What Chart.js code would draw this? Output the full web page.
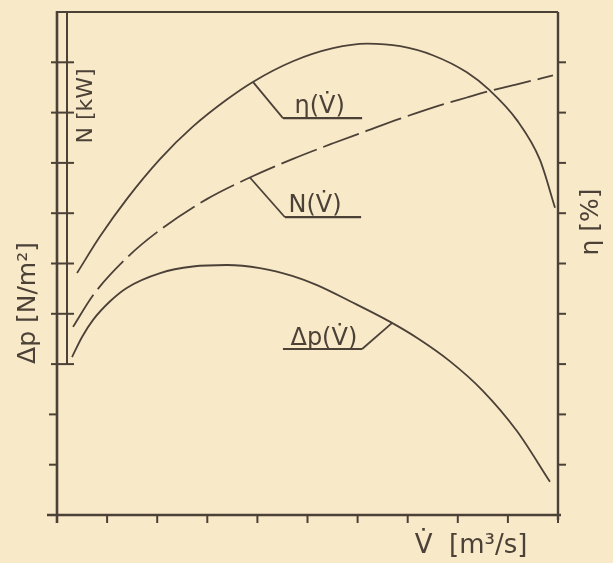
<!DOCTYPE html>
<html>
<head>
<meta charset="utf-8">
<script src="https://cdn.jsdelivr.net/npm/chart.js@4/dist/chart.umd.min.js"></script>
<style>
  html, body { margin: 0; padding: 0; background: #f8e9c9; }
  canvas { display: block; }
</style>
</head>
<body>
<canvas id="c" width="613" height="563"></canvas>
<script>
// ---- data (axis units: 10 divisions on each axis) ----
const xTicks = [1, 2, 3, 4, 5, 6, 7, 8, 9, 10];
const yTicks = [1, 2, 3, 4, 5, 6, 7, 8, 9];

const etaX = [0.40, 0.86, 1.40, 2.06, 2.71, 3.39, 3.91, 4.71, 5.51, 6.19, 6.85, 7.50, 8.18, 8.64, 9.18, 9.64, 9.94];
const etaY = [4.81, 5.54, 6.29, 7.08, 7.72, 8.26, 8.61, 9.02, 9.28, 9.37, 9.32, 9.14, 8.80, 8.44, 7.85, 7.06, 6.11];

const powX = [0.32, 0.72, 1.40, 2.06, 2.99, 3.85, 4.71, 5.51, 6.19, 6.85, 7.50, 8.18, 8.64, 9.18, 9.90];
const powY = [3.74, 4.37, 5.12, 5.67, 6.28, 6.71, 7.08, 7.39, 7.64, 7.88, 8.10, 8.30, 8.43, 8.56, 8.74];

const dpX = [0.30, 0.50, 0.72, 1.06, 1.40, 2.06, 2.71, 3.39, 4.05, 4.71, 5.19, 5.85, 6.65, 7.19, 7.84, 8.50, 9.18, 9.84];
const dpY = [3.14, 3.54, 3.88, 4.25, 4.52, 4.81, 4.94, 4.97, 4.91, 4.75, 4.57, 4.25, 3.84, 3.52, 3.06, 2.47, 1.67, 0.66];

const curveLabels = ['η(V̇)', 'N(V̇)', 'Δp(V̇)'];
const axisTitles = { x: 'V̇  [m³/s]', left1: 'N [kW]', left2: 'Δp [N/m²]', right: 'η [%]' };

const INK = '#4b4137';
const toPts = (xs, ys) => xs.map((x, i) => ({ x: x, y: ys[i] }));

const decor = {
  id: 'decor',
  afterDraw(chart) {
    const ctx = chart.ctx;
    const X = chart.scales.x, Y = chart.scales.y;
    const px = v => X.getPixelForValue(v), py = v => Y.getPixelForValue(v);
    const L = px(0), R = px(10), T = py(10), B = py(0);
    ctx.save();
    ctx.strokeStyle = INK; ctx.fillStyle = INK; ctx.lineCap = 'butt';
    const line = (x1, y1, x2, y2, w) => { ctx.lineWidth = w; ctx.beginPath(); ctx.moveTo(x1, y1); ctx.lineTo(x2, y2); ctx.stroke(); };
    // frame
    line(L, T - 1, L, B + 8, 2.6);          // left axis
    line(L - 10, B, R + 3, B, 2.6);         // bottom axis
    line(R, T, R, B + 5, 2.4);              // right axis
    line(L, T, R, T, 2);                    // top border
    // second (inner) left axis for N
    const innerX = L + 10;
    line(innerX, T, innerX, py(3), 2);
    // left ticks
    yTicks.forEach(v => {
      const y = py(v);
      if (v >= 3) line(L - 6, y, innerX + 7, y, 2);
      else line(L - 8, y, L, y, 2);
    });
    // bottom ticks
    xTicks.forEach(v => { const x = px(v); line(x, B, x, B + 8, 2); });
    // right ticks
    yTicks.forEach(v => { const y = py(v); line(R, y, R + 8, y, 2); });

    // curve labels with leader lines (data coordinates)
    ctx.font = '24px "DejaVu Sans", sans-serif';
    ctx.textBaseline = 'alphabetic'; ctx.textAlign = 'left';
    const lab = (txt, cx, cy, kx, ky, ux1, ux2, tx, tyOff) => {
      line(px(cx), py(cy), px(kx), py(ky), 1.8);
      line(px(ux1), py(ky), px(ux2), py(ky), 2.2);
      ctx.fillText(txt, px(tx), py(ky) - tyOff);
    };
    lab(curveLabels[0], 3.91, 8.61, 4.51, 7.89, 4.51, 6.09, 4.74, 5);
    lab(curveLabels[1], 3.85, 6.71, 4.55, 5.92, 4.55, 6.07, 4.62, 5);
    // Δp: leader from curve down-left to underline end
    line(px(6.69), py(3.82), px(6.09), py(3.30), 1.8);
    line(px(4.51), py(3.30), px(6.09), py(3.30), 2.2);
    ctx.fillText(curveLabels[2], px(4.66), py(3.30) - 4);

    // axis titles
    ctx.textAlign = 'center'; ctx.textBaseline = 'middle';
    ctx.font = '26px "DejaVu Sans", sans-serif';
    ctx.fillText(axisTitles.x, 471, 546);
    const vtext = (txt, x, y, size) => {
      ctx.save(); ctx.translate(x, y); ctx.rotate(-Math.PI / 2);
      ctx.font = size + 'px "DejaVu Sans", sans-serif';
      ctx.fillText(txt, 0, 0); ctx.restore();
    };
    vtext(axisTitles.left1, 86, 106, 22);
    vtext(axisTitles.left2, 28, 303, 25);
    vtext(axisTitles.right, 591, 222, 25);
    ctx.restore();
  }
};

const common = { borderColor: INK, borderWidth: 1.8, pointRadius: 0, cubicInterpolationMode: 'monotone', fill: false };

new Chart(document.getElementById('c'), {
  type: 'line',
  data: {
    datasets: [
      Object.assign({ label: 'eta', data: toPts(etaX, etaY) }, common),
      Object.assign({ label: 'N', data: toPts(powX, powY), borderDash: [38, 7] }, common),
      Object.assign({ label: 'dp', data: toPts(dpX, dpY) }, common)
    ]
  },
  options: {
    responsive: false,
    animation: false,
    layout: { padding: { left: 57, right: 55, top: 12, bottom: 48 } },
    scales: {
      x: { type: 'linear', min: 0, max: 10, display: false },
      y: { type: 'linear', min: 0, max: 10, display: false }
    },
    plugins: { legend: { display: false }, tooltip: { enabled: false } }
  },
  plugins: [decor]
});
</script>
</body>
</html>
